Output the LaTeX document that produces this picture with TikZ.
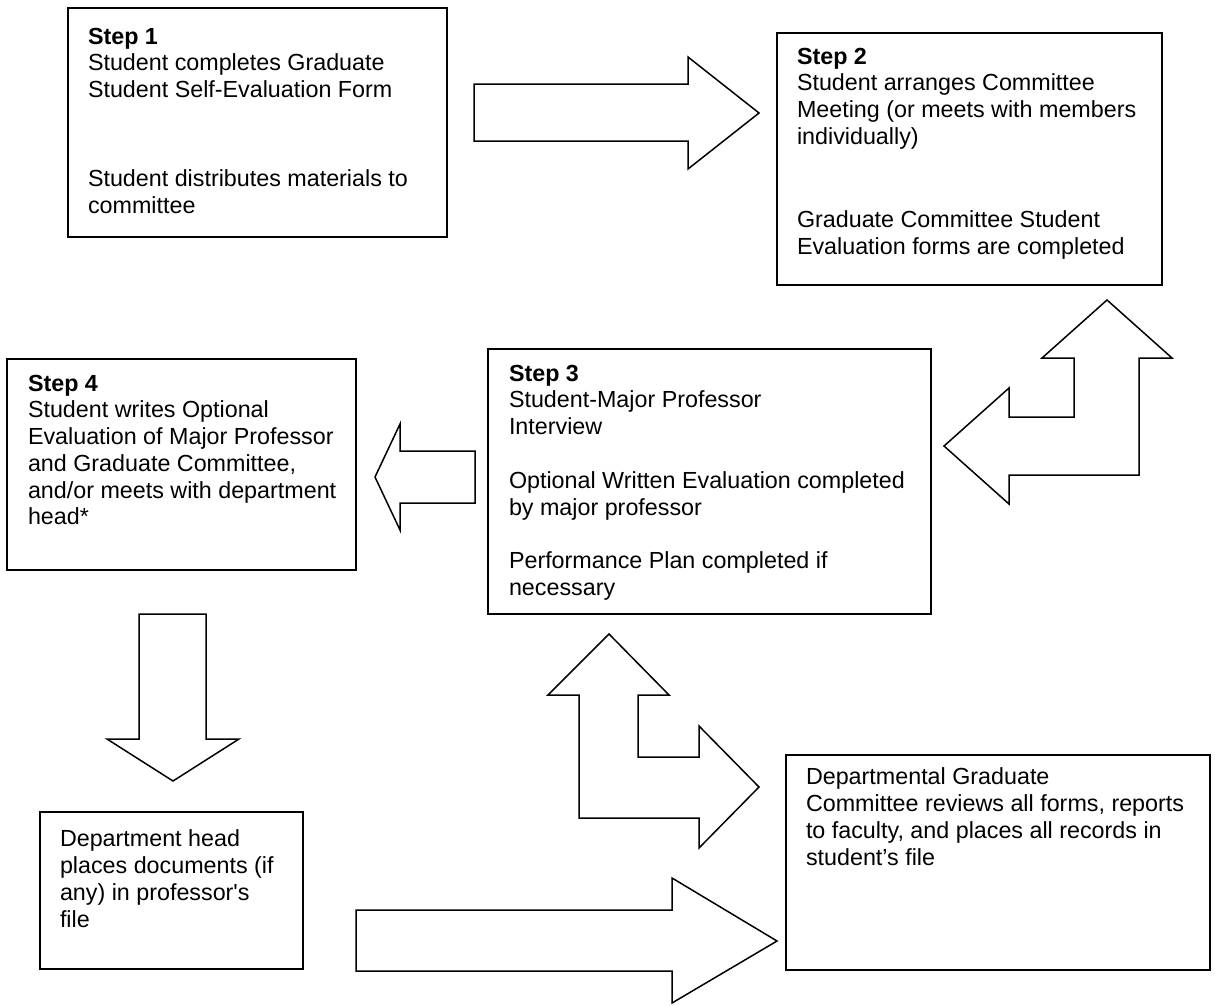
\documentclass[tikz,border=0pt]{standalone}
\usepackage{fontspec}
\setmainfont{Liberation Sans}
\newfontfamily\rawfnt{Liberation Sans}
\newcommand{\bodyfnt}{\fontsize{23.3pt}{26.7pt}\selectfont}
\begin{document}
\begin{tikzpicture}[x=1pt,y=-1pt,
  stepbox/.style={draw, line width=1.6pt, inner sep=0pt, outer sep=0pt, anchor=north west},
  blockarrow/.style={draw, line width=1.5pt, fill=white, line join=miter},
  txt/.style={anchor=north west, inner sep=0pt, outer sep=0pt, align=left, font=\bodyfnt}]
\useasboundingbox (0,0) rectangle (1215,1005);

% boxes
\node[stepbox, minimum width=379pt, minimum height=229pt] (b1) at (68,8) {};
\node[stepbox, minimum width=385pt, minimum height=252pt] (b2) at (777,33) {};
\node[stepbox, minimum width=443pt, minimum height=265pt] (b3) at (488,349) {};
\node[stepbox, minimum width=349pt, minimum height=211pt] (b4) at (7,359) {};
\node[stepbox, minimum width=263pt, minimum height=157pt] (b5) at (40,812) {};
\node[stepbox, minimum width=424pt, minimum height=215pt] (b6) at (786,755) {};

% texts
\node[txt] (t1a) at (88,28) {\textbf{Step 1}\\Student completes Graduate\\Student Self-Evaluation Form};
\node[txt] (t1b) at (88,170) {Student distributes materials to\\committee};

\node[txt] (t2a) at (797,48) {\textbf{Step 2}\\Student arranges Committee\\Meeting (or meets with members\\individually)};
\node[txt] (t2b) at (797,211) {Graduate Committee Student\\Evaluation forms are completed};

\node[txt] (t3a) at (509,365) {\textbf{Step 3}\\Student-Major Professor\\Interview};
\node[txt] (t3b) at (509,472) {Optional Written Evaluation completed\\by major professor};
\node[txt] (t3c) at (509,552) {Performance Plan completed if\\necessary};

\node[txt] (t4) at (28,375) {\textbf{Step 4}\\Student writes Optional\\Evaluation of Major Professor\\and Graduate Committee,\\and/or meets with department\\head*};

\node[txt] (t5) at (60,830) {Department head\\places documents (if\\any) in {\rawfnt professor's}\\file};

\node[txt] (t6) at (806,768) {Departmental Graduate\\Committee reviews all forms, reports\\to faculty, and places all records in\\student’s file};

% block arrows
% step 1 -> step 2
\draw[blockarrow] (474,84) -- (688,84) -- (688,57) -- (759,113) -- (688,169) -- (688,141) -- (474,141) -- cycle;
% step 3 -> step 4
\draw[blockarrow] (475,451) -- (400,451) -- (400,424) -- (375,477) -- (400,530) -- (400,503) -- (475,503) -- cycle;
% step 4 -> department head
\draw[blockarrow] (139,614) -- (206,614) -- (206,739) -- (239,739) -- (173,781) -- (107,739) -- (139,739) -- cycle;
% department head -> departmental committee
\draw[blockarrow] (356,910) -- (672,910) -- (672,878) -- (777,941) -- (672,1003) -- (672,971) -- (356,971) -- cycle;
% step 2 <-> step 3 bent arrow
\draw[blockarrow] (1107,300) -- (1172,358) -- (1139,358) -- (1139,475) -- (1009,475) -- (1009,504) -- (944,446) -- (1009,388) -- (1009,417) -- (1074,417) -- (1074,358) -- (1042,358) -- cycle;
% step 3 <-> departmental committee bent arrow
\draw[blockarrow] (609,634) -- (669,695) -- (638,695) -- (638,757) -- (699,757) -- (699,726) -- (759,787) -- (699,848) -- (699,818) -- (579,818) -- (579,695) -- (548,695) -- cycle;
\end{tikzpicture}
\end{document}
